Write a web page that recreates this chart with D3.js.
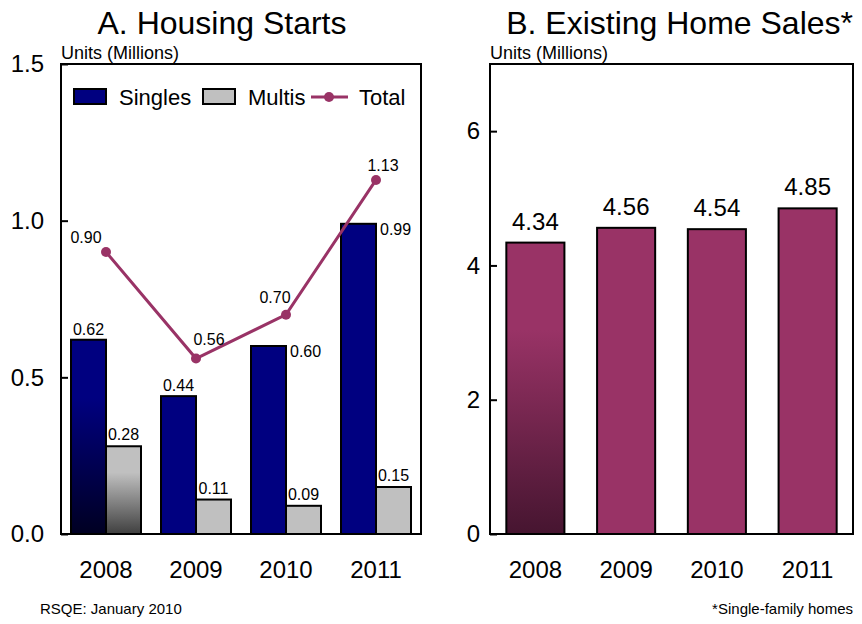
<!DOCTYPE html>
<html>
<head>
<meta charset="utf-8">
<script src="https://cdn.jsdelivr.net/npm/d3@7"></script>
<style>
body { margin: 0; background: #fff; }
text { font-family: "Liberation Sans", Arial, sans-serif; fill: #000; }
</style>
</head>
<body>
<script>
var years = ["2008", "2009", "2010", "2011"];
var singles = [0.62, 0.44, 0.60, 0.99];
var multis = [0.28, 0.11, 0.09, 0.15];
var totals = [0.90, 0.56, 0.70, 1.13];
var existingSales = [4.34, 4.56, 4.54, 4.85];
var leftTicks = [0, 0.5, 1.0, 1.5];
var rightTicks = [0, 2, 4, 6];

var svg = d3.select("body").append("svg").attr("width", 862).attr("height", 624);

var defs = svg.append("defs");
function grad(id, c1, c2) {
  var g = defs.append("linearGradient").attr("id", id)
    .attr("x1", 0).attr("y1", 0).attr("x2", 0).attr("y2", 1);
  g.append("stop").attr("offset", "0%").attr("stop-color", c1);
  g.append("stop").attr("offset", "30%").attr("stop-color", c1);
  g.append("stop").attr("offset", "100%").attr("stop-color", c2);
}
grad("gSingles", "#000080", "#000022");
grad("gMultis", "#c0c0c0", "#404040");
grad("gSales", "#993366", "#461530");

var plotTop = 64, plotBottom = 534;

// ---------- Panel A ----------
var xA = d3.scaleBand().domain(years).range([61, 421]);
var yA = d3.scaleLinear().domain([0, 1.5]).range([plotBottom, plotTop]);
var barW = 35;

var gA = svg.append("g");

gA.selectAll(".single").data(years).enter().append("rect")
  .attr("x", function(d) { return xA(d) + xA.bandwidth() / 2 - barW; })
  .attr("y", function(d, i) { return yA(singles[i]); })
  .attr("width", barW)
  .attr("height", function(d, i) { return plotBottom - yA(singles[i]); })
  .attr("fill", function(d, i) { return i == 0 ? "url(#gSingles)" : "#000080"; })
  .attr("stroke", "#000").attr("stroke-width", 2);

gA.selectAll(".multi").data(years).enter().append("rect")
  .attr("x", function(d) { return xA(d) + xA.bandwidth() / 2; })
  .attr("y", function(d, i) { return yA(multis[i]); })
  .attr("width", barW)
  .attr("height", function(d, i) { return plotBottom - yA(multis[i]); })
  .attr("fill", function(d, i) { return i == 0 ? "url(#gMultis)" : "#c0c0c0"; })
  .attr("stroke", "#000").attr("stroke-width", 2);

var line = d3.line()
  .x(function(d, i) { return xA(years[i]) + xA.bandwidth() / 2; })
  .y(function(d) { return yA(d); });

gA.append("path").attr("d", line(totals))
  .attr("fill", "none").attr("stroke", "#993366").attr("stroke-width", 3);

gA.selectAll(".dot").data(totals).enter().append("circle")
  .attr("cx", function(d, i) { return xA(years[i]) + xA.bandwidth() / 2; })
  .attr("cy", function(d) { return yA(d); })
  .attr("r", 5).attr("fill", "#993366");

// value labels
gA.selectAll(".sl").data(singles).enter().append("text")
  .attr("x", function(d, i) {
    var c = xA(years[i]) + xA.bandwidth() / 2 - barW / 2;
    return i < 2 ? c : c + barW / 2 + 4;
  })
  .attr("y", function(d, i) { return i < 2 ? yA(d) - 5 : yA(d) + 11; })
  .attr("text-anchor", function(d, i) { return i < 2 ? "middle" : "start"; })
  .style("font-size", "16px")
  .text(function(d) { return d.toFixed(2); });

gA.selectAll(".ml").data(multis).enter().append("text")
  .attr("x", function(d, i) { return xA(years[i]) + xA.bandwidth() / 2 + barW / 2; })
  .attr("y", function(d) { return yA(d) - 6; })
  .attr("text-anchor", "middle")
  .style("font-size", "16px")
  .text(function(d) { return d.toFixed(2); });

// total labels sit off the point, nudged away from the line
var tlDx = [-20, 13, -11, 7], tlDy = [-9, -14, -12, -9];
gA.selectAll(".tl").data(totals).enter().append("text")
  .attr("x", function(d, i) { return xA(years[i]) + xA.bandwidth() / 2 + tlDx[i]; })
  .attr("y", function(d, i) { return yA(d) + tlDy[i]; })
  .attr("text-anchor", "middle")
  .style("font-size", "16px")
  .text(function(d) { return d.toFixed(2); });

// frame and axes
gA.append("rect").attr("x", 61).attr("y", plotTop).attr("width", 360).attr("height", plotBottom - plotTop)
  .attr("fill", "none").attr("stroke", "#000").attr("stroke-width", 2);

var axA = gA.append("g").attr("transform", "translate(61,0)")
  .call(d3.axisLeft(yA).tickValues(leftTicks).tickSize(-7).tickPadding(17).tickFormat(d3.format(".1f")));
axA.select(".domain").remove();
axA.selectAll("line").attr("stroke-width", 2);
axA.selectAll("text").style("font-size", "24px");

var axAx = gA.append("g").attr("transform", "translate(0," + plotBottom + ")")
  .call(d3.axisBottom(xA).tickSize(0).tickPadding(27));
axAx.select(".domain").remove();
axAx.selectAll("text").style("font-size", "24px");

gA.append("text").attr("x", 222).attr("y", 34).attr("text-anchor", "middle")
  .style("font-size", "32px").text("A. Housing Starts");
gA.append("text").attr("x", 61).attr("y", 59).style("font-size", "18px").text("Units (Millions)");

// legend
var lg = gA.append("g");
lg.append("rect").attr("x", 74).attr("y", 89).attr("width", 32).attr("height", 15)
  .attr("fill", "#000080").attr("stroke", "#000").attr("stroke-width", 2);
lg.append("text").attr("x", 119).attr("y", 105).style("font-size", "22px").text("Singles");
lg.append("rect").attr("x", 203).attr("y", 89).attr("width", 32).attr("height", 15)
  .attr("fill", "#c0c0c0").attr("stroke", "#000").attr("stroke-width", 2);
lg.append("text").attr("x", 248).attr("y", 105).style("font-size", "22px").text("Multis");
lg.append("line").attr("x1", 311).attr("x2", 348).attr("y1", 97).attr("y2", 97)
  .attr("stroke", "#993366").attr("stroke-width", 3);
lg.append("circle").attr("cx", 329).attr("cy", 97).attr("r", 5).attr("fill", "#993366");
lg.append("text").attr("x", 359).attr("y", 105).style("font-size", "22px").text("Total");

// ---------- Panel B ----------
var xB = d3.scaleBand().domain(years).range([490, 853]).paddingInner(0.36).paddingOuter(0.18);
var yB = d3.scaleLinear().domain([0, 7]).range([plotBottom, plotTop]);
var gB = svg.append("g");

gB.selectAll(".sale").data(existingSales).enter().append("rect")
  .attr("x", function(d, i) { return xB(years[i]); })
  .attr("y", function(d) { return yB(d); })
  .attr("width", xB.bandwidth())
  .attr("height", function(d) { return plotBottom - yB(d); })
  .attr("fill", function(d, i) { return i == 0 ? "url(#gSales)" : "#993366"; })
  .attr("stroke", "#000").attr("stroke-width", 2);

gB.selectAll(".saleLbl").data(existingSales).enter().append("text")
  .attr("x", function(d, i) { return xB(years[i]) + xB.bandwidth() / 2; })
  .attr("y", function(d) { return yB(d) - 13; })
  .attr("text-anchor", "middle")
  .style("font-size", "24px")
  .text(function(d) { return d.toFixed(2); });

gB.append("rect").attr("x", 490).attr("y", plotTop).attr("width", 363).attr("height", plotBottom - plotTop)
  .attr("fill", "none").attr("stroke", "#000").attr("stroke-width", 2);

var axB = gB.append("g").attr("transform", "translate(490,0)")
  .call(d3.axisLeft(yB).tickValues(rightTicks).tickSize(-7).tickPadding(10).tickFormat(d3.format("d")));
axB.select(".domain").remove();
axB.selectAll("line").attr("stroke-width", 2);
axB.selectAll("text").style("font-size", "24px");

var axBx = gB.append("g").attr("transform", "translate(0," + plotBottom + ")")
  .call(d3.axisBottom(xB).tickSize(0).tickPadding(27));
axBx.select(".domain").remove();
axBx.selectAll("text").style("font-size", "24px");

gB.append("text").attr("x", 853).attr("y", 34).attr("text-anchor", "end")
  .style("font-size", "32px").text("B. Existing Home Sales*");
gB.append("text").attr("x", 490).attr("y", 59).style("font-size", "18px").text("Units (Millions)");

// footers
svg.append("text").attr("x", 40).attr("y", 614).style("font-size", "15px").text("RSQE: January 2010");
svg.append("text").attr("x", 853).attr("y", 614).attr("text-anchor", "end")
  .style("font-size", "15px").text("*Single-family homes");
</script>
</body>
</html>
